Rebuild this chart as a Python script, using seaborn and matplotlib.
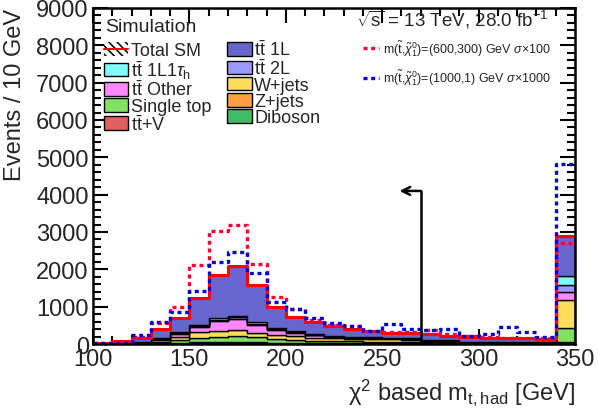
import numpy as np
import pandas as pd
import matplotlib
matplotlib.use("Agg")
import matplotlib.pyplot as plt
import seaborn as sns
from matplotlib.patches import Patch
from matplotlib.lines import Line2D

# Binning: 10 GeV bins from 100 to 350 GeV (last bin holds the overflow)
bin_edges = list(range(100, 360, 10))
bin_lo = bin_edges[:-1]

# Background yields per bin (events / 10 GeV)
tt_1l = [22, 50, 103, 239, 387, 717, 1162, 1326, 1009, 570, 375, 312, 247,
         194, 160, 125, 148, 143, 107, 134, 99, 95, 95, 85, 1070]
tt_1l1tau = [0, 0, 3, 8, 19, 28, 37, 43, 33, 27, 21, 15, 13,
             12, 11, 10, 9, 6, 6, 3, 3, 3, 3, 3, 245]
tt_2l = [0, 1, 3, 8, 20, 30, 45, 50, 45, 30, 22, 18, 15,
         12, 11, 10, 9, 6, 6, 3, 3, 3, 2, 2, 180]
tt_other = [1, 2, 8, 28, 75, 150, 245, 280, 195, 120, 90, 62, 45,
            35, 30, 28, 22, 14, 14, 7, 7, 6, 6, 5, 200]
w_jets = [2, 6, 22, 55, 90, 145, 165, 160, 130, 110, 95, 80, 70,
          65, 62, 60, 56, 45, 45, 25, 25, 24, 22, 20, 760]
single_top = [2, 5, 15, 40, 75, 120, 140, 170, 130, 95, 80, 65, 55,
              48, 44, 42, 38, 30, 30, 15, 15, 15, 13, 12, 385]
z_jets = [1, 2, 4, 8, 12, 15, 18, 18, 15, 12, 10, 9, 8,
          8, 7, 7, 6, 5, 5, 3, 3, 3, 3, 3, 15]
tt_v = [1, 2, 3, 6, 10, 15, 20, 20, 18, 14, 12, 10, 9,
        8, 7, 6, 6, 5, 5, 3, 3, 3, 3, 2, 15]
diboson = [1, 2, 4, 8, 12, 15, 18, 18, 15, 12, 10, 9, 8,
           8, 7, 7, 6, 5, 5, 3, 3, 3, 3, 3, 15]

# Signal yields (already multiplied by the quoted scale factors)
sig_600_300 = [30, 60, 200, 560, 985, 2120, 3020, 3190, 2140, 1250, 930, 650, 520,
               470, 360, 330, 330, 370, 260, 220, 190, 170, 160, 150, 2710]
sig_1000_1 = [25, 35, 235, 600, 860, 1430, 2206, 2457, 1903, 1117, 950, 690, 563,
              491, 350, 536, 402, 384, 402, 223, 280, 447, 313, 179, 4824]

process_names = ["tt1L", "tt1L1tau", "tt2L", "ttOther", "Wjets",
                 "SingleTop", "Zjets", "ttV", "Diboson"]
process_yields = [tt_1l, tt_1l1tau, tt_2l, tt_other, w_jets,
                  single_top, z_jets, tt_v, diboson]
process_colors = ["#6666cc", "#80ffff", "#9999ff", "#ff88ff", "#ffdd5c",
                  "#80e060", "#ffa040", "#e06060", "#44bb66"]
process_labels = [r"t$\bar{\mathrm{t}}$ 1L", r"t$\bar{\mathrm{t}}$ 1L1$\tau_{\mathrm{h}}$",
                  r"t$\bar{\mathrm{t}}$ 2L", r"t$\bar{\mathrm{t}}$ Other", "W+jets",
                  "Single top", "Z+jets", r"t$\bar{\mathrm{t}}$+V", "Diboson"]

centers = [lo + 5 for lo in bin_lo]
rows = []
for name, ys in zip(process_names, process_yields):
    for c, y in zip(centers, ys):
        rows.append({"mass": c, "events": y, "process": name})
df = pd.DataFrame(rows)
total_sm = df.groupby("mass")["events"].sum().reindex(centers).values

sns.set_theme(style="ticks")
plt.rcParams["font.family"] = ["Liberation Sans", "DejaVu Sans"]
plt.rcParams["mathtext.fontset"] = "custom"
plt.rcParams["mathtext.rm"] = "Liberation Sans"
plt.rcParams["mathtext.it"] = "Liberation Sans:italic"
plt.rcParams["mathtext.bf"] = "Liberation Sans:bold"
plt.rcParams["hatch.linewidth"] = 1.1
plt.rcParams["hatch.color"] = "black"

fig = plt.figure(figsize=(5.98, 4.14), dpi=100)
ax = fig.add_axes([93 / 598, 1 - 345 / 414, 482 / 598, 336 / 414])

# Stacked backgrounds
sns.histplot(data=df, x="mass", weights="events", hue="process",
             hue_order=process_names, palette=dict(zip(process_names, process_colors)),
             bins=bin_edges, multiple="stack", element="step", alpha=1,
             edgecolor="black", linewidth=1.0, legend=False, ax=ax)

# Total SM outline
sns.histplot(x=centers, weights=total_sm, bins=bin_edges, element="step",
             fill=False, color="#ff0000", linewidth=2.2, ax=ax)

# Signal benchmarks
dots = (0, (1.2, 1.1))
sns.histplot(x=centers, weights=sig_600_300, bins=bin_edges, element="step",
             fill=False, color="#ff0033", linewidth=2.4, linestyle=dots, ax=ax)
sns.histplot(x=centers, weights=sig_1000_1, bins=bin_edges, element="step",
             fill=False, color="#0000dd", linewidth=2.4, linestyle=dots, ax=ax)

# Selection cut arrow
cut_value = 270
arrow_height = 4100
ax.plot([cut_value, cut_value], [0, arrow_height], color="black", lw=1.8)
ax.annotate("", xy=(259, arrow_height), xytext=(cut_value, arrow_height),
            arrowprops=dict(arrowstyle="->", lw=1.8, color="black",
                            shrinkA=0, shrinkB=0, mutation_scale=14))

ax.set_xlim(100, 350)
ax.set_ylim(0, 9000)
ax.set_xticks(range(100, 351, 50))
ax.set_xticks(range(100, 351, 10), minor=True)
ax.set_yticks(range(0, 9001, 1000))
ax.set_yticks(range(0, 9001, 200), minor=True)
ax.tick_params(which="both", direction="in", top=True, right=True,
               labelsize=17, width=1.5, color="black")
ax.tick_params(which="major", length=11, pad=3)
ax.tick_params(which="minor", length=6)
for s in ax.spines.values():
    s.set_linewidth(1.8)
    s.set_color("black")

ax.set_xlabel(r"χ$^{2}$ based m$_{\mathrm{t,had}}$ [GeV]", fontsize=17, loc="right", labelpad=4)
ax.set_ylabel("Events / 10 GeV", fontsize=17, loc="top", labelpad=7)

ax.text(0.025, 0.932, "Simulation", transform=ax.transAxes, fontsize=14, va="baseline")
ax.text(0.945, 0.949, r"$\sqrt{\mathrm{s}}$ = 13 TeV, 28.0 fb$^{-1}$", transform=ax.transAxes,
        fontsize=13.5, ha="right", va="baseline")

# Background legend (two columns, filled row by row)
total_handle = (Patch(facecolor="white", edgecolor="black", hatch="\\\\\\\\", lw=0.01),
                Line2D([], [], color="#ff0000", lw=1.5))
patches = {n: Patch(facecolor=c, edgecolor="black", lw=1.0)
           for n, c in zip(process_names, process_colors)}
lab = dict(zip(process_names, process_labels))
col1 = [("Total SM", total_handle), (lab["tt1L1tau"], patches["tt1L1tau"]),
        (lab["ttOther"], patches["ttOther"]), (lab["SingleTop"], patches["SingleTop"]),
        (lab["ttV"], patches["ttV"])]
col2 = [(lab["tt1L"], patches["tt1L"]), (lab["tt2L"], patches["tt2L"]),
        (lab["Wjets"], patches["Wjets"]), (lab["Zjets"], patches["Zjets"]),
        (lab["Diboson"], patches["Diboson"])]
entries = col1 + col2
leg1 = ax.legend([h for _, h in entries], [l for l, _ in entries], ncol=2,
                 loc="upper left", bbox_to_anchor=(0.022, 0.905), frameon=False,
                 fontsize=13, handlelength=1.35, handleheight=0.8, handletextpad=0.15,
                 labelspacing=-0.06, columnspacing=0.9, borderpad=0, borderaxespad=0)
ax.add_artist(leg1)

sig_handles = [Line2D([], [], color="#ff0033", lw=2.4, linestyle=dots),
               Line2D([], [], color="#0000dd", lw=2.4, linestyle=dots)]
sig_labels = [r"m($\tilde{\mathrm{t}}$,$\tilde{\chi}^{0}_{1}$)=(600,300) GeV $\sigma$$\times$100",
              r"m($\tilde{\mathrm{t}}$,$\tilde{\chi}^{0}_{1}$)=(1000,1) GeV $\sigma$$\times$1000"]
ax.legend(sig_handles, sig_labels, loc="upper left", bbox_to_anchor=(0.56, 0.91),
          frameon=False, fontsize=9, handlelength=1.3, handletextpad=0.3,
          labelspacing=0.75, borderpad=0, borderaxespad=0)

fig.savefig("out.png", dpi=100)
